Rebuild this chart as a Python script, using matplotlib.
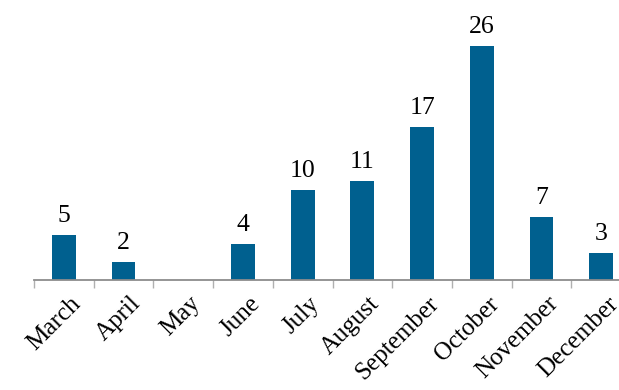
import matplotlib.pyplot as plt
import numpy as np

months = ["March", "April", "May", "June", "July", "August",
          "September", "October", "November", "December"]
counts = [5, 2, 0, 4, 10, 11, 17, 26, 7, 3]

plt.rcParams['font.family'] = ['Liberation Serif', 'DejaVu Serif']

fig = plt.figure(figsize=(6.19, 3.9), dpi=100)
ax = fig.add_axes([34/619, 110/390, 597/619, 270/390])

x = np.arange(len(months))
bars = ax.bar(x, counts, width=0.4, color='#00608F')
for xi, c in zip(x, counts):
    if c > 0:
        ax.annotate(str(c), (xi, c), xytext=(0, 6), textcoords='offset points',
                    ha='center', va='bottom', fontsize=18.5)

ax.set_xlim(-0.5, len(months) - 0.5)
ax.set_ylim(0, 30)
ax.set_yticks([])
for s in ['top', 'right', 'left']:
    ax.spines[s].set_visible(False)
ax.spines['bottom'].set_color('#8c8c8c')
ax.spines['bottom'].set_linewidth(1.3)

ax.set_xticks(np.arange(len(months) + 1) - 0.5, minor=False)
ax.set_xticklabels([])
ax.tick_params(axis='x', which='major', length=6, width=1, color='#b0b0b0', direction='out')
ax.set_xticks(x + 0.1, minor=True)
ax.set_xticklabels(months, minor=True, rotation=45, ha='right',
                   rotation_mode='anchor', fontsize=18)
ax.tick_params(axis='x', which='minor', length=0, pad=9)

fig.savefig('out.png', dpi=100)
